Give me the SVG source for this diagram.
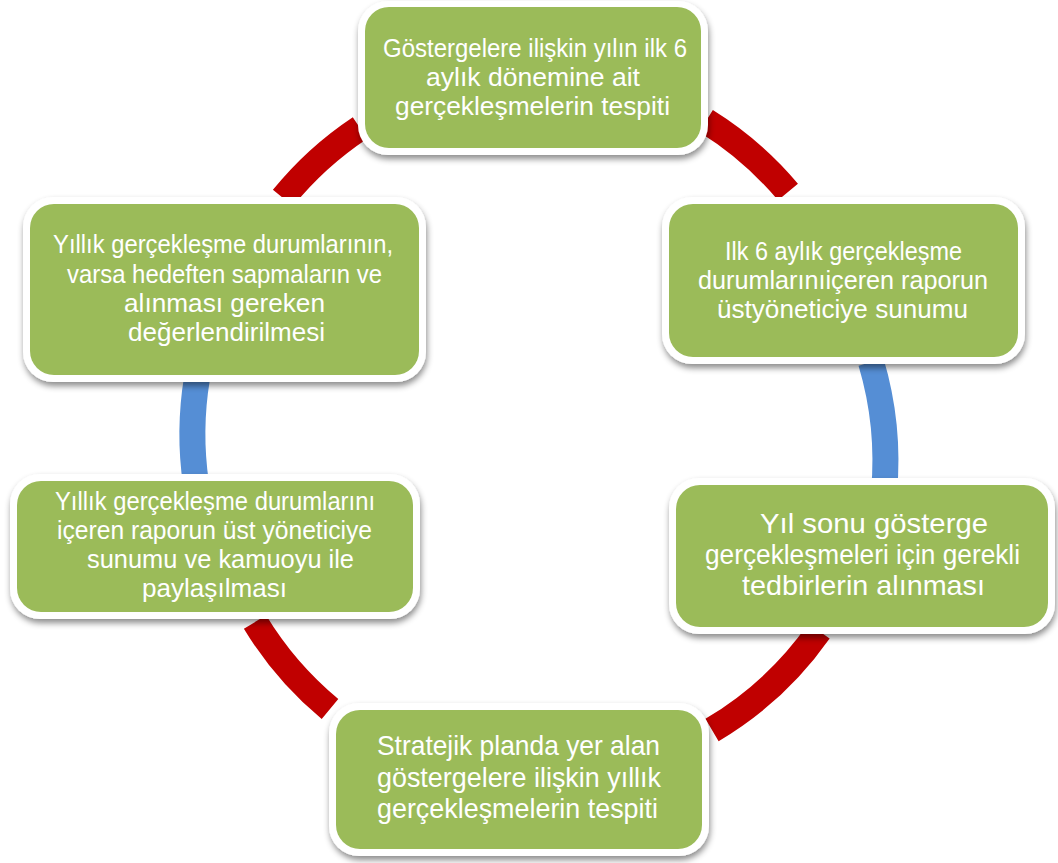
<svg xmlns="http://www.w3.org/2000/svg" width="1058" height="863" viewBox="0 0 1058 863">
<style>
.arc{fill:none;stroke-width:26;stroke-linecap:butt}
.red{stroke:#C00000}
.blue{stroke:#558ED5}
.frame{fill:#FFFFFF;filter:url(#sh)}
.box{fill:#9BBB59}
.t{font-family:"Liberation Sans",Arial,sans-serif;fill:#FFFFFF;font-size:26px}
.big{font-size:28px}
</style>
<defs>
<filter id="sh" x="-10%" y="-10%" width="120%" height="130%">
<feDropShadow dx="1" dy="4" stdDeviation="3" flood-color="#000000" flood-opacity="0.45"/>
</filter>
</defs>
<rect width="1058" height="863" fill="#FFFFFF"/>
<g id="connectors">
<path class="arc red" d="M283,198 A345,345 0 0 1 360,128"/>
<path class="arc red" d="M706,121 A345,345 0 0 1 788,192"/>
<path class="arc blue" d="M871,362 A345,345 0 0 1 884,492"/>
<path class="arc red" d="M819,631 A345,345 0 0 1 712,730"/>
<path class="arc red" d="M330,709 A345,345 0 0 1 255,622"/>
<path class="arc blue" d="M196,484 A345,345 0 0 1 197,378"/>
</g>
<g id="node-top">
<rect class="frame" x="358" y="1" width="350" height="154" rx="30"/>
<rect class="box" x="365" y="7" width="336" height="141" rx="24"/>
<text class="t" x="383" y="57" textLength="304" lengthAdjust="spacingAndGlyphs">Göstergelere ilişkin yılın ilk 6</text>
<text class="t" x="426" y="86" textLength="214" lengthAdjust="spacingAndGlyphs">aylık dönemine ait</text>
<text class="t" x="395" y="115" textLength="275" lengthAdjust="spacingAndGlyphs">gerçekleşmelerin tespiti</text>
</g>
<g id="node-top-right">
<rect class="frame" x="662" y="197" width="363" height="167" rx="30"/>
<rect class="box" x="669" y="204" width="349" height="153" rx="24"/>
<text class="t" x="725" y="260" textLength="237" lengthAdjust="spacingAndGlyphs">Ilk 6 aylık gerçekleşme</text>
<text class="t" x="698" y="289" textLength="290" lengthAdjust="spacingAndGlyphs">durumlarınıiçeren raporun</text>
<text class="t" x="717" y="318" textLength="251" lengthAdjust="spacingAndGlyphs">üstyöneticiye sunumu</text>
</g>
<g id="node-bottom-right">
<rect class="frame" x="669" y="478" width="386" height="156" rx="30"/>
<rect class="box" x="676" y="485" width="372" height="142" rx="24"/>
<text class="t big" x="760" y="533" textLength="228" lengthAdjust="spacingAndGlyphs">Yıl sonu gösterge</text>
<text class="t big" x="705" y="564" textLength="315" lengthAdjust="spacingAndGlyphs">gerçekleşmeleri için gerekli</text>
<text class="t big" x="742" y="595" textLength="243" lengthAdjust="spacingAndGlyphs">tedbirlerin alınması</text>
</g>
<g id="node-bottom">
<rect class="frame" x="329" y="703" width="380" height="153" rx="30"/>
<rect class="box" x="336" y="710" width="366" height="139" rx="24"/>
<text class="t big" x="377" y="755" textLength="283" lengthAdjust="spacingAndGlyphs">Stratejik planda yer alan</text>
<text class="t big" x="377" y="787" textLength="284" lengthAdjust="spacingAndGlyphs">göstergelere ilişkin yıllık</text>
<text class="t big" x="377" y="818" textLength="281" lengthAdjust="spacingAndGlyphs">gerçekleşmelerin   tespiti</text>
</g>
<g id="node-bottom-left">
<rect class="frame" x="10" y="474" width="410" height="145" rx="30"/>
<rect class="box" x="17" y="481" width="396" height="131" rx="24"/>
<text class="t" x="55" y="510" textLength="320" lengthAdjust="spacingAndGlyphs">Yıllık gerçekleşme durumlarını</text>
<text class="t" x="57" y="539" textLength="315" lengthAdjust="spacingAndGlyphs">içeren raporun üst yöneticiye</text>
<text class="t" x="87" y="568" textLength="267" lengthAdjust="spacingAndGlyphs">sunumu ve kamuoyu ile</text>
<text class="t" x="142" y="597" textLength="145" lengthAdjust="spacingAndGlyphs">paylaşılması</text>
</g>
<g id="node-top-left">
<rect class="frame" x="23" y="197" width="403" height="185" rx="30"/>
<rect class="box" x="30" y="204" width="389" height="171" rx="24"/>
<text class="t" x="53" y="253" textLength="340" lengthAdjust="spacingAndGlyphs">Yıllık gerçekleşme durumlarının,</text>
<text class="t" x="67" y="283" textLength="315" lengthAdjust="spacingAndGlyphs">varsa hedeften sapmaların ve</text>
<text class="t" x="124" y="312" textLength="201" lengthAdjust="spacingAndGlyphs">alınması gereken</text>
<text class="t" x="128" y="341" textLength="197" lengthAdjust="spacingAndGlyphs">değerlendirilmesi</text>
</g>
</svg>
